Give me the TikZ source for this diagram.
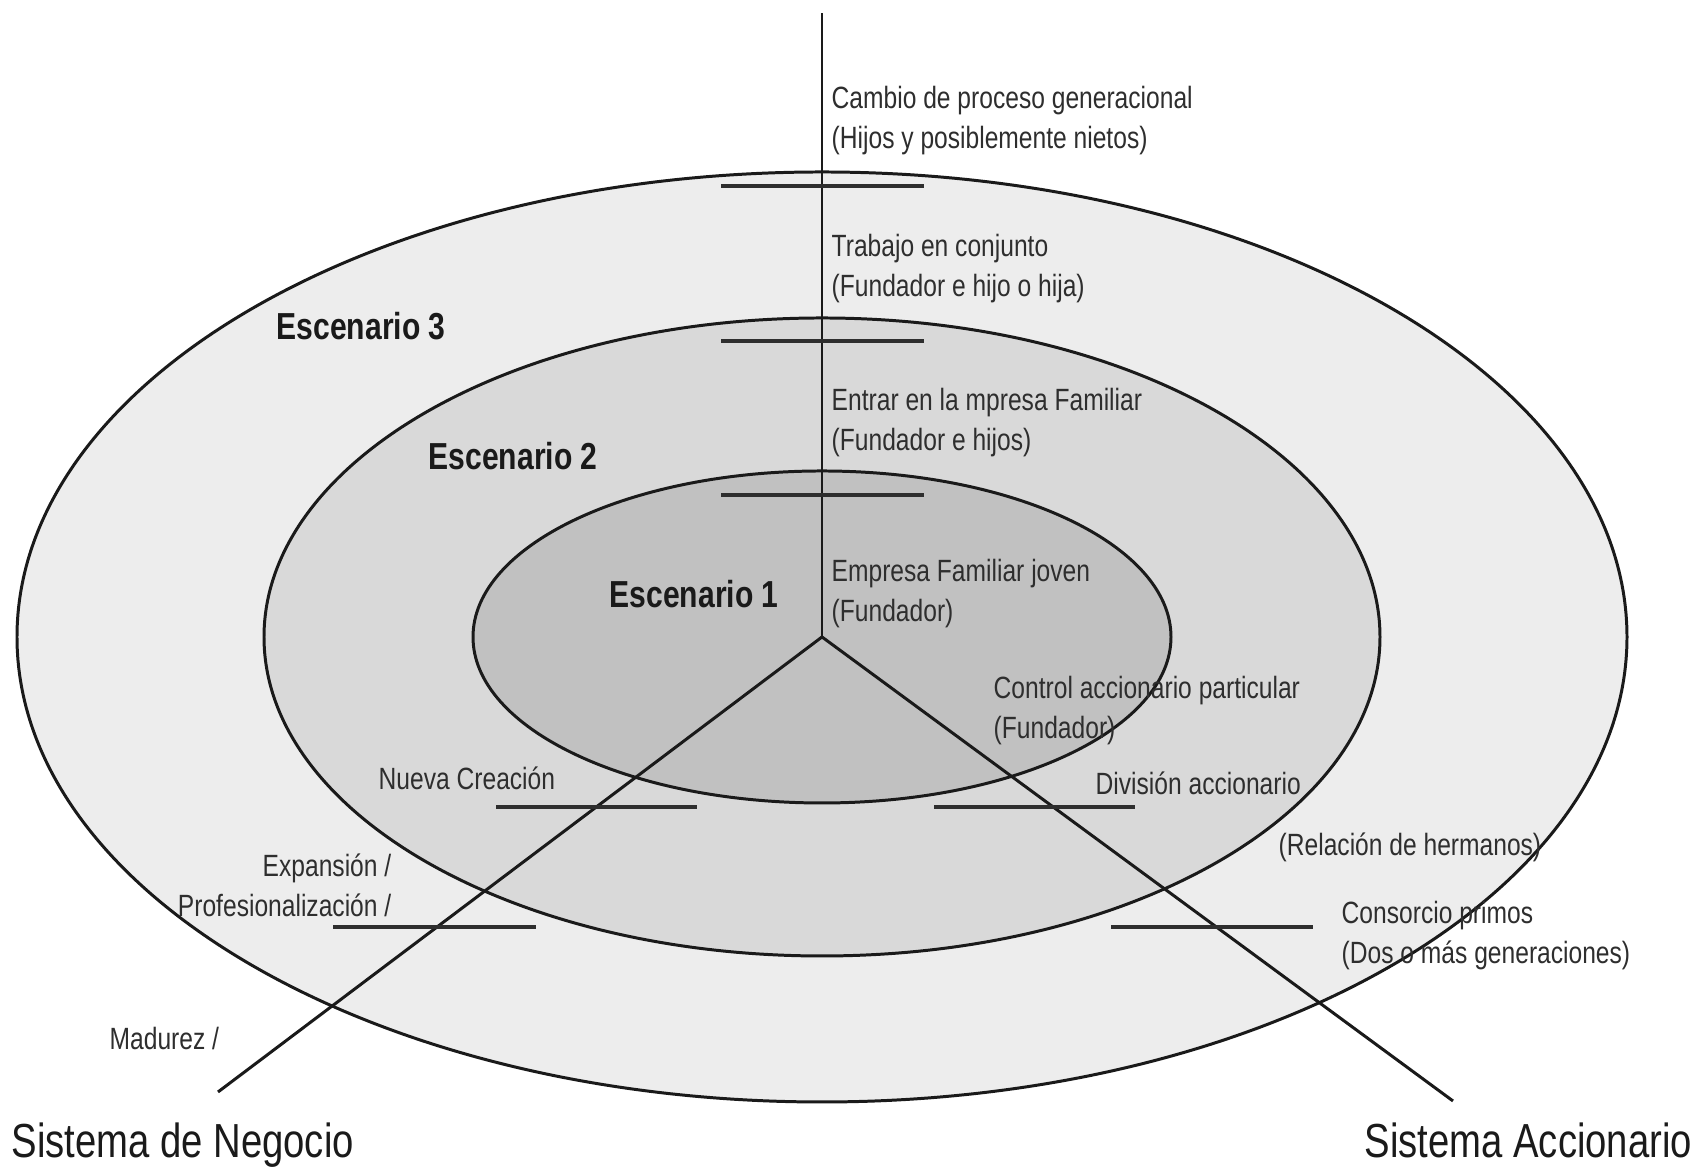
\documentclass[tikz,border=0pt]{standalone}
\usepackage{fontspec}
\setmainfont[FakeStretch=0.8]{Liberation Sans}
\usepackage{tikz}
\usepackage{xcolor}
\usetikzlibrary{positioning,calc}
\definecolor{ringout}{HTML}{EDEDED}
\definecolor{ringmid}{HTML}{D9D9D9}
\definecolor{ringin}{HTML}{C1C1C1}
\definecolor{ink}{HTML}{1A1A1A}
\definecolor{inkgray}{HTML}{2E2E2E}
\tikzset{
  ring/.style={draw=ink,line width=0.85pt},
  axisline/.style={draw=ink,line width=0.85pt},
  tickline/.style={draw=inkgray,line width=0.95pt},
  stagetext/.style={inner sep=0pt,align=left,text=inkgray,
                    font=\fontsize{8.75}{11.4}\selectfont},
  scenelabel/.style={inner sep=0pt,anchor=west,text=ink,
                     font=\fontsize{10.7}{12}\selectfont\bfseries},
  axislabel/.style={inner sep=0pt,anchor=base west,text=ink,
                    font=\fontsize{13.6}{15}\selectfont}
}
\begin{document}
\begin{tikzpicture}[x=1cm,y=1cm]
    \path[use as bounding box,fill=white] (0,0) rectangle (17.08,11.70);
    \coordinate (hub) at (8.22,5.33);
    \coordinate (topend) at (8.22,11.57);
    \coordinate (negend) at (2.18,0.78);
    \coordinate (accend) at (14.53,0.69);
    % the three scenarios
    \path[ring,fill=ringout] (hub) ellipse [x radius=8.05,y radius=4.65];
    \path[ring,fill=ringmid] (hub) ellipse [x radius=5.58,y radius=3.19];
    \path[ring,fill=ringin] (hub) ellipse [x radius=3.49,y radius=1.66];
    % the three systems
    \draw[axisline] (hub) -- (topend);
    \draw[axisline] (hub) -- (negend);
    \draw[axisline] (hub) -- (accend);
    % stage marks
    \foreach \yy in {9.84,8.29,6.75}
      \draw[tickline] (7.21,\yy) -- (9.24,\yy);
    \draw[tickline] (4.96,3.63) -- (6.97,3.63);
    \draw[tickline] (9.34,3.63) -- (11.35,3.63);
    \draw[tickline] (3.33,2.43) -- (5.36,2.43);
    \draw[tickline] (11.11,2.43) -- (13.13,2.43);
    % family axis
    \node[stagetext,anchor=west] (cambio) at (8.31,10.49)
      {Cambio de proceso generacional\\(Hijos y posiblemente nietos)};
    \node[stagetext,anchor=west] (trabajo) at (8.31,9.01)
      {Trabajo en conjunto\\(Fundador e hijo o hija)};
    \node[stagetext,anchor=west] (entrar) at (8.31,7.47)
      {Entrar en la mpresa Familiar\\(Fundador e hijos)};
    \node[stagetext,anchor=west] (empresa) at (8.31,5.76)
      {Empresa Familiar joven\\(Fundador)};
    % ownership axis
    \node[stagetext,anchor=west] (control) at (9.93,4.59)
      {Control accionario particular\\(Fundador)};
    \node[stagetext,anchor=west] (division) at (10.95,3.87)
      {División accionario};
    \node[stagetext,anchor=west] (relacion) at (12.78,3.23)
      {(Relación de hermanos)};
    \node[stagetext,anchor=west] (consorcio) at (13.41,2.34)
      {Consorcio primos\\(Dos o más generaciones)};
    % business axis
    \node[stagetext,anchor=west] (nueva) at (3.78,3.92) {Nueva Creación};
    \node[stagetext,anchor=east,align=right] (expansion) at (3.92,2.85)
      {Expansión /\\Profesionalización /};
    \node[stagetext,anchor=west] (madurez) at (1.09,1.31) {Madurez /};
    % scenario names
    \node[scenelabel] (esc3) at (2.76,8.44) {Escenario 3};
    \node[scenelabel] (esc2) at (4.28,7.14) {Escenario 2};
    \node[scenelabel] (esc1) at (6.09,5.76) {Escenario 1};
    \node[axislabel] (sisneg) at (0.11,0.12) {Sistema de Negocio};
    \node[axislabel] (sisacc) at (13.64,0.12) {Sistema Accionario};
  \end{tikzpicture}
\end{document}
